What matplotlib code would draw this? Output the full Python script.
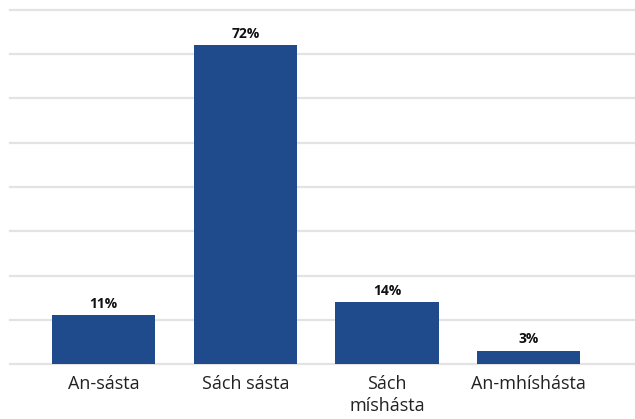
import matplotlib
matplotlib.use("Agg")
import matplotlib.pyplot as plt

categories = ["An-sásta", "Sách sásta", "Sách\nmíshásta", "An-mhíshásta"]
values = [11, 72, 14, 3]

plt.rcParams['font.family'] = ['Open Sans', 'DejaVu Sans']

fig = plt.figure(figsize=(6.35, 4.19), dpi=100)
ax = fig.add_axes([10 / 635, 55 / 419, 625 / 635, 354 / 419])

x = list(range(len(categories)))
ax.bar(x, values, width=0.73, color="#1F4A8B", zorder=3)

for xi, v in zip(x, values):
    ax.text(xi, v + 1.0, f"{v}%", ha="center", va="bottom",
            fontsize=10, fontweight="bold", color="#111111", zorder=4)

ax.set_ylim(0, 80)
ax.set_xlim(-0.66, 3.75)
ax.set_yticks(range(0, 81, 10))
ax.yaxis.grid(True, color="#e3e3e3", linewidth=1.6, zorder=0)
for gl in ax.get_ygridlines():
    gl.set_clip_on(False)
ax.tick_params(axis="y", left=False, labelleft=False)
ax.set_xticks(x)
ax.set_xticklabels(categories, fontsize=13, color="#222222", linespacing=1.25)
ax.tick_params(axis="x", length=0, pad=8)
for s in ["top", "right", "left", "bottom"]:
    ax.spines[s].set_visible(False)

fig.savefig("out.png", dpi=100)
